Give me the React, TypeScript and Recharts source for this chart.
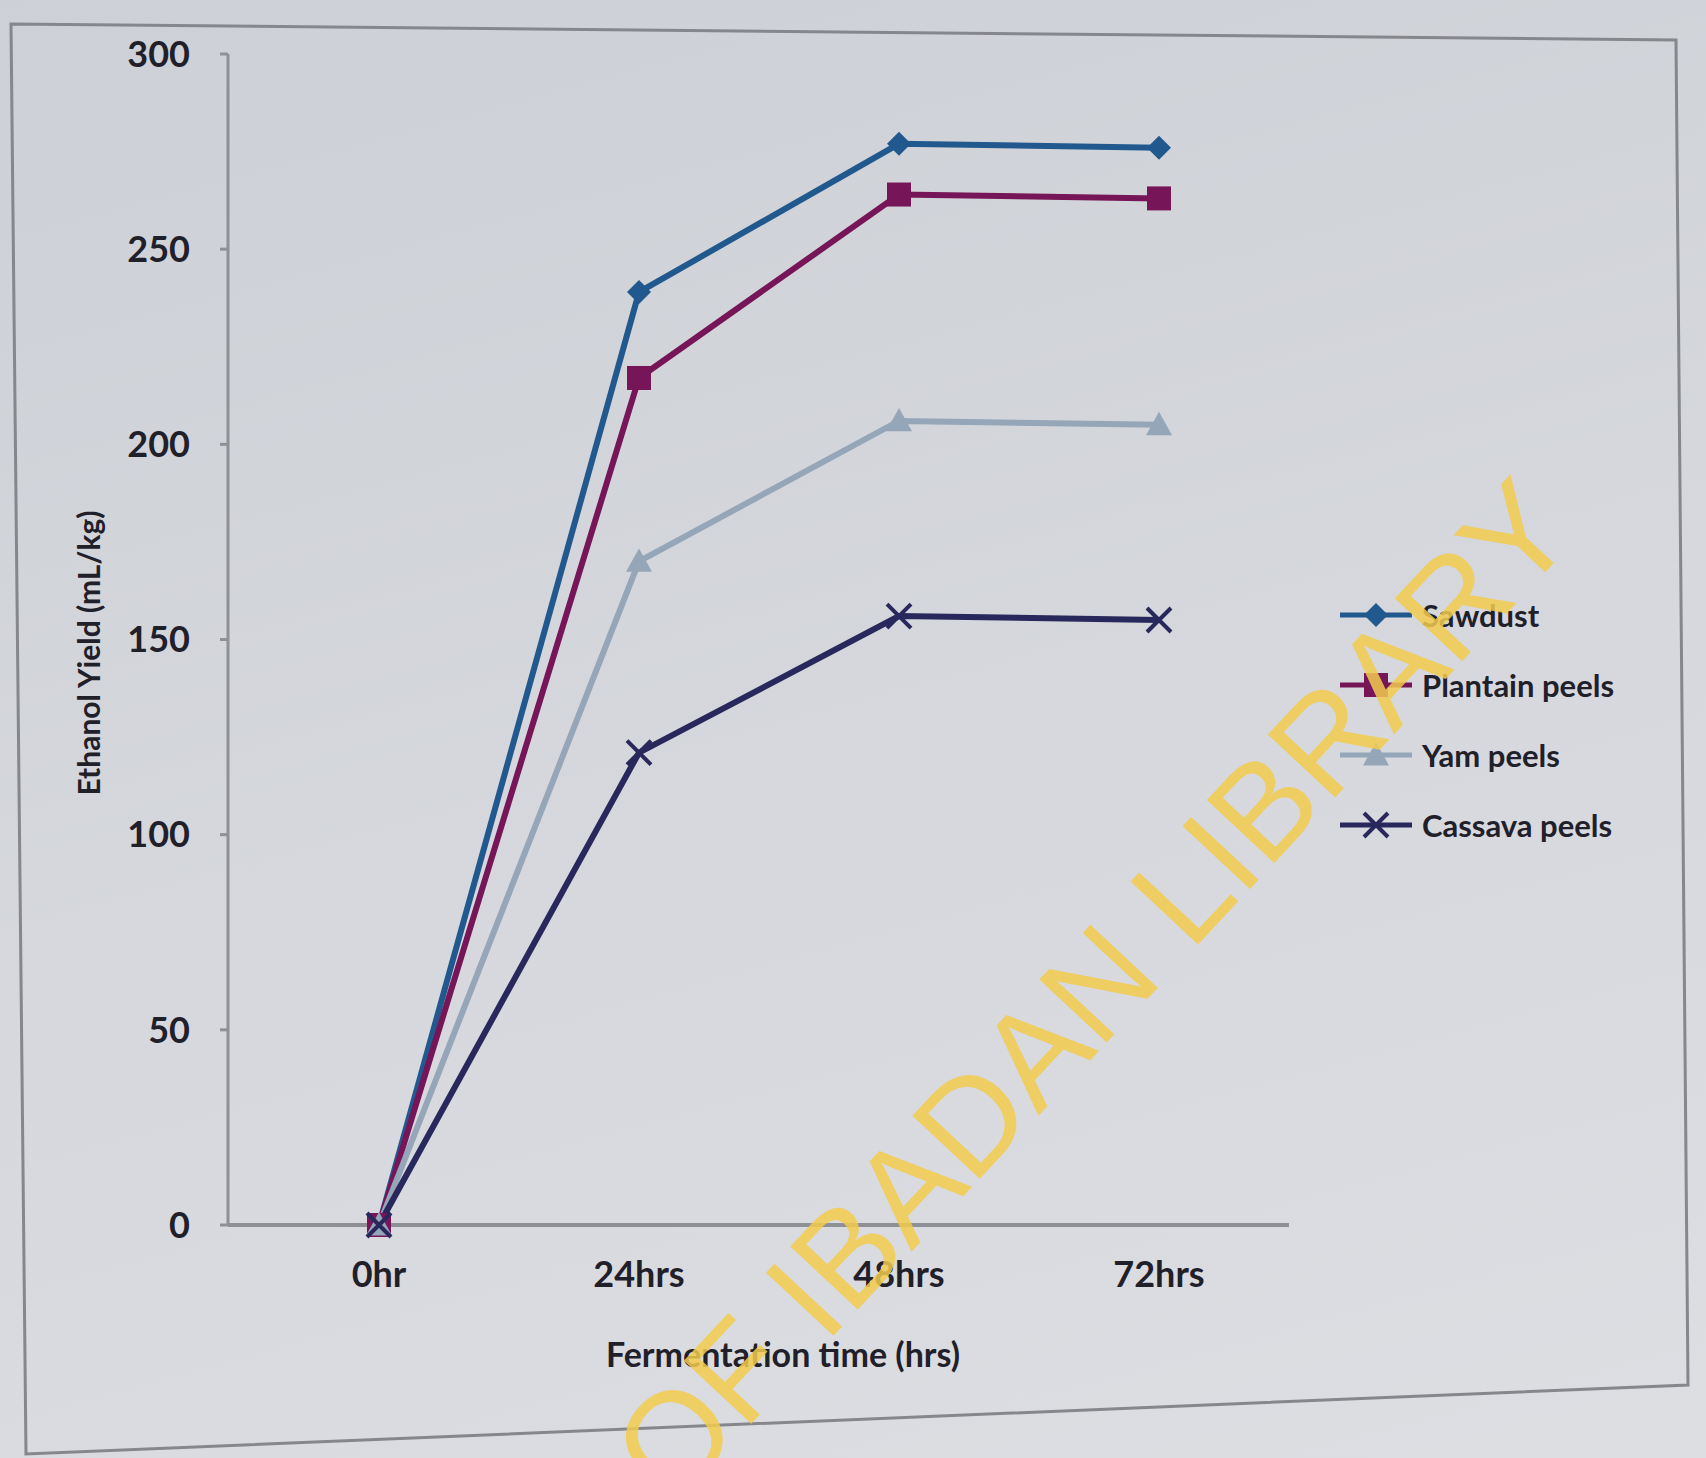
import React from 'react';
import { LineChart, Line, XAxis, YAxis } from 'recharts';

// Ethanol yield per substrate over fermentation time
const HOURS = ['0hr', '24hrs', '48hrs', '72hrs'];
const SAWDUST = [0, 239, 277, 276];
const PLANTAIN_PEELS = [0, 217, 264, 263];
const YAM_PEELS = [0, 170, 206, 205];
const CASSAVA_PEELS = [0, 121, 156, 155];
const Y_TICKS = [0, 50, 100, 150, 200, 250, 300];

const FONT = 'Lato, "Open Sans", "DejaVu Sans", sans-serif';
const INK = '#1f2029';
const AXIS = '#8e9096';

const data = HOURS.map((hour, i) => ({
  hour,
  sawdust: SAWDUST[i],
  plantain: PLANTAIN_PEELS[i],
  yam: YAM_PEELS[i],
  cassava: CASSAVA_PEELS[i],
}));

type Shape = 'diamond' | 'square' | 'triangle' | 'cross';

const SERIES: { key: string; name: string; color: string; shape: Shape }[] = [
  { key: 'sawdust', name: 'Sawdust', color: '#21598f', shape: 'diamond' },
  { key: 'plantain', name: 'Plantain peels', color: '#761558', shape: 'square' },
  { key: 'yam', name: 'Yam peels', color: '#94a6b8', shape: 'triangle' },
  { key: 'cassava', name: 'Cassava peels', color: '#29285c', shape: 'cross' },
];

function marker(shape: Shape, color: string, cx: number, cy: number, key?: any) {
  if (shape === 'diamond') {
    const r = 12;
    return <path key={key} d={`M${cx},${cy - r}L${cx + r},${cy}L${cx},${cy + r}L${cx - r},${cy}Z`} fill={color} />;
  }
  if (shape === 'square') {
    const r = 12;
    return <rect key={key} x={cx - r} y={cy - r} width={r * 2} height={r * 2} fill={color} />;
  }
  if (shape === 'triangle') {
    const r = 13;
    return <path key={key} d={`M${cx},${cy - r}L${cx + r},${cy + r * 0.8}L${cx - r},${cy + r * 0.8}Z`} fill={color} />;
  }
  const r = 12;
  return (
    <path key={key} d={`M${cx - r},${cy - r}L${cx + r},${cy + r}M${cx + r},${cy - r}L${cx - r},${cy + r}`}
      stroke={color} strokeWidth={4} fill="none" />
  );
}

const dotFor = (shape: Shape, color: string) => (props: any) =>
  marker(shape, color, props.cx, props.cy, `${shape}-${props.index}`);

function LegendBox() {
  return (
    <div style={{ position: 'absolute', left: 1338, top: 580, fontFamily: FONT }}>
      {SERIES.map((s) => (
        <div key={s.key} style={{ display: 'flex', alignItems: 'center', height: 70 }}>
          <svg width={76} height={30}>
            <line x1={2} y1={15} x2={74} y2={15} stroke={s.color} strokeWidth={5} />
            {marker(s.shape, s.color, 38, 15)}
          </svg>
          <span style={{ marginLeft: 8, fontSize: 31, fontWeight: 700, color: INK, whiteSpace: 'nowrap' }}>{s.name}</span>
        </div>
      ))}
    </div>
  );
}

export default function App() {
  return (
    <div style={{
      position: 'absolute', left: 0, top: 0, width: 1706, height: 1458, overflow: 'hidden',
      background: 'linear-gradient(165deg, #cdd0d6 0%, #d6d8dd 55%, #dddee2 100%)',
    }}>
      <LineChart width={1706} height={1458} data={data} margin={{ top: 54, right: 417, bottom: 113, left: 0 }}>
        <XAxis
          dataKey="hour"
          height={120}
          padding={{ left: 151, right: 130 }}
          axisLine={{ stroke: AXIS, strokeWidth: 4 }}
          tickLine={false}
          tickSize={0}
          tickMargin={36}
          tick={{ fontSize: 36, fontWeight: 700, fill: INK, fontFamily: FONT }}
        />
        <YAxis
          width={228}
          domain={[0, 300]}
          ticks={Y_TICKS}
          interval={0}
          axisLine={{ stroke: AXIS, strokeWidth: 3 }}
          tickLine={{ stroke: AXIS, strokeWidth: 3 }}
          tickSize={8}
          tickMargin={30}
          tick={{ fontSize: 36, fontWeight: 700, fill: INK, fontFamily: FONT }}
        />
        {SERIES.map((s) => (
          <Line
            key={s.key}
            dataKey={s.key}
            name={s.name}
            stroke={s.color}
            strokeWidth={6}
            dot={dotFor(s.shape, s.color)}
            activeDot={false}
            isAnimationActive={false}
          />
        ))}
      </LineChart>

      <LegendBox />

      <svg width={1706} height={1458} style={{ position: 'absolute', left: 0, top: 0, pointerEvents: 'none' }}>
        {/* outer chart frame */}
        <polygon points="11,24 1676,40 1688,1385 26,1454" fill="none" stroke="#85878c" strokeWidth={3} />
        <text x={783} y={1367} textAnchor="middle" fontFamily={FONT} fontSize={34} fontWeight={700} fill={INK}>
          Fermentation time (hrs)
        </text>
        <text transform="translate(100,653) rotate(-90)" textAnchor="middle" fontFamily={FONT}
          fontSize={30} fontWeight={700} fill={INK}>
          Ethanol Yield (mL/kg)
        </text>
        <text transform="translate(1580,535) rotate(-47)" textAnchor="end" fontFamily='"Liberation Sans", Arial, sans-serif'
          fontSize={134} fill="#f2cb4e" fillOpacity={0.85}>
          UNIVERSITY OF IBADAN LIBRARY
        </text>
      </svg>
    </div>
  );
}
